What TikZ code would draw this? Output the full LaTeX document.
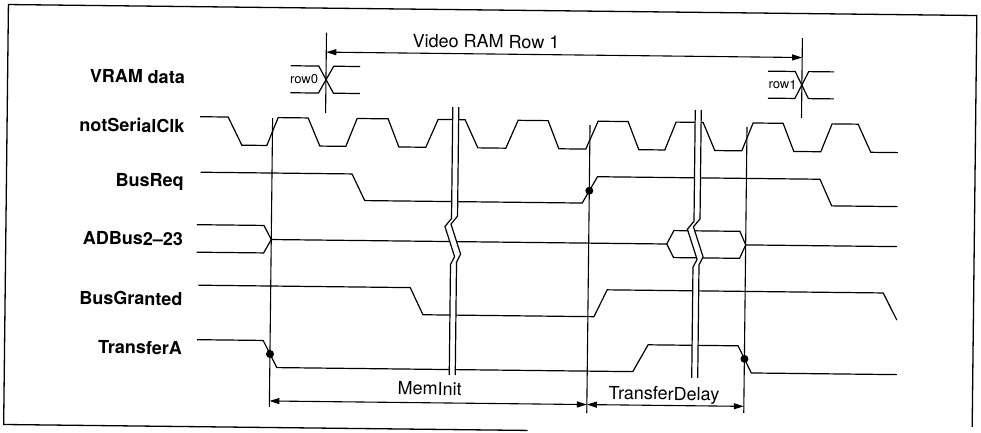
\documentclass[tikz,border=0pt]{standalone}
\usepackage{fontspec}
\setmainfont{TeX Gyre Heros}
\usetikzlibrary{arrows.meta}
\tikzset{
  sig/.style={line width=1.2pt, line join=miter},
  frameline/.style={line width=1.3pt},
  markline/.style={line width=1.1pt},
  dimarrow/.style={line width=1.1pt, {Triangle[length=10pt,width=6pt]}-{Triangle[length=10pt,width=6pt]}},
  lbl/.style={font=\fontsize{18}{20}\selectfont\bfseries, anchor=base east, inner sep=0pt},
  txt/.style={font=\fontsize{18}{20}\selectfont, anchor=base, inner sep=0pt},
  rowlbl/.style={font=\fontsize{13}{15}\selectfont, anchor=base, inner sep=0pt},
  tdot/.style={circle, fill=black, draw=none, inner sep=0pt, minimum size=8pt},
}
\newcommand{\tdbreak}[1]{%
\begin{scope}[shift={(#1,0)}]
\fill[white] (0,107.5) -- (0,219) -- (-6.5,227) -- (3.5,257) -- (-0.5,265) -- (-0.5,375.5) -- (5.5,375.5) -- (5.5,262.5) -- (9.5,254.5) -- (-0.5,224.5) -- (6,216.5) -- (6,107.5) -- cycle;
\draw[sig] (0,107.5) -- (0,219) -- (-6.5,227) -- (3.5,257) -- (-0.5,265) -- (-0.5,375.5);
\draw[sig] (6,107.5) -- (6,216.5) -- (-0.5,224.5) -- (9.5,254.5) -- (5.5,262.5) -- (5.5,375.5);
\end{scope}}
\begin{document}
\begin{tikzpicture}[x=1pt,y=-1pt]
\useasboundingbox (0,0) rectangle (981,433);
\begin{scope}[rotate around={-0.65:(490,220)}, transform shape]
% frame
\draw[frameline] (530,430) -- (6,430) -- (6,10) -- (974.5,10) -- (974.5,421.5);

% labels
\node[lbl] (lvram) at (183.5,87) {VRAM data};
\node[lbl] (lclk) at (183.5,136) {notSerialClk};
\node[lbl] (lreq) at (183.5,190.5) {BusReq};
\node[lbl] (lad) at (183.5,249) {ADBus2–23};
\node[lbl] (lgr) at (183.5,309) {BusGranted};
\node[lbl] (ltr) at (183.5,358) {TransferA};

% VRAM data
\draw[sig] (289,68) -- (317,68) -- (332,95) -- (358.5,95);
\draw[sig] (289,95) -- (317,95) -- (332,68) -- (358.5,68);
\draw[sig] (766.5,68) -- (793.5,68) -- (807,95) -- (832.5,95);
\draw[sig] (766.5,95) -- (793.5,95) -- (807,68) -- (832.5,68);
\node[rowlbl] (trow0) at (302.5,86) {row0};
\node[rowlbl] (trow1) at (781,85.7) {row1};

% notSerialClk
\draw[sig] (199,120) -- (227,120) -- (241,148) -- (266,148) -- (277,120) -- (307,120) -- (319,148) -- (345,148) -- (356,120) -- (387,120) -- (398,148) -- (425,148) -- (437,120) -- (464,120) -- (477,148) -- (505,148) -- (517,120) -- (547,120) -- (558,148) -- (585,148) -- (597,120) -- (627,120) -- (638,148) -- (664,148) -- (675,120) -- (702,120) -- (714,148) -- (741,148) -- (752,120) -- (782,120) -- (793,148) -- (820,148) -- (831,120) -- (857,120) -- (870,148) -- (897,148);

% BusReq
\draw[sig] (200,175.5) -- (351.5,175.5) -- (364.5,202) -- (582,202) -- (597,175.5) -- (819.5,175.5) -- (831.5,202) -- (897.5,202);

% ADBus2-23
\draw[sig] (197,228) -- (264,228) -- (271.5,242) -- (264,255.5) -- (197,255.5);
\draw[sig] (271.5,242) -- (667,242);
\draw[sig] (667,242) -- (674,228.5) -- (740,228.5) -- (746,242) -- (740,255.5) -- (674,255.5) -- cycle;
\draw[sig] (746,242) -- (897.5,242);

% BusGranted
\draw[sig] (199,288.5) -- (411,288.5) -- (424,315.5) -- (595,315.5) -- (608,288.5) -- (884,288.5) -- (898,315.5);

% TransferA
\draw[sig] (198.5,343) -- (264.5,343) -- (278.5,370) -- (634.5,370) -- (649.5,343) -- (739.5,343) -- (753,370) -- (898.5,370);

% breaks
\tdbreak{451.5}
\tdbreak{694}

% marker lines
\coordinate (v0t) at (271.5,120.5);
\coordinate (v0b) at (271.5,409.5);
\coordinate (v1t) at (589,124);
\coordinate (v1b) at (589,412);
\coordinate (v2t) at (746,124);
\coordinate (v2b) at (746,410);
\coordinate (r0t) at (324.4,34.5);
\coordinate (r0b) at (324.4,115);
\coordinate (r1t) at (800.4,34.5);
\coordinate (r1b) at (800.4,114.5);
\draw[markline] (v0t) -- (v0b);
\draw[markline] (v1t) -- (v1b);
\draw[markline] (v2t) -- (v2b);
\draw[markline] (r0t) -- (r0b);
\draw[markline] (r1t) -- (r1b);

% dots
\node[tdot] (d1) at (589,189.6) {};
\node[tdot] (d2) at (271.5,356.5) {};
\node[tdot] (d3) at (746,356) {};

% dimension arrows
\coordinate (ra) at (324.4,54);
\coordinate (rb) at (800.4,54);
\coordinate (a0) at (271.5,403.5);
\coordinate (a1) at (589,403.5);
\coordinate (a2) at (746,403.5);
\draw[dimarrow] (ra) -- (rb);
\draw[dimarrow] (a0) -- (a1);
\draw[dimarrow] (a1) -- (a2);
\node[txt] (tvr) at (484,48) {Video RAM Row 1};
\node[txt] (tmi) at (431.5,395.7) {MemInit};
\node[txt] (ttd) at (666,398) {TransferDelay};
\end{scope}
\end{tikzpicture}
\end{document}
